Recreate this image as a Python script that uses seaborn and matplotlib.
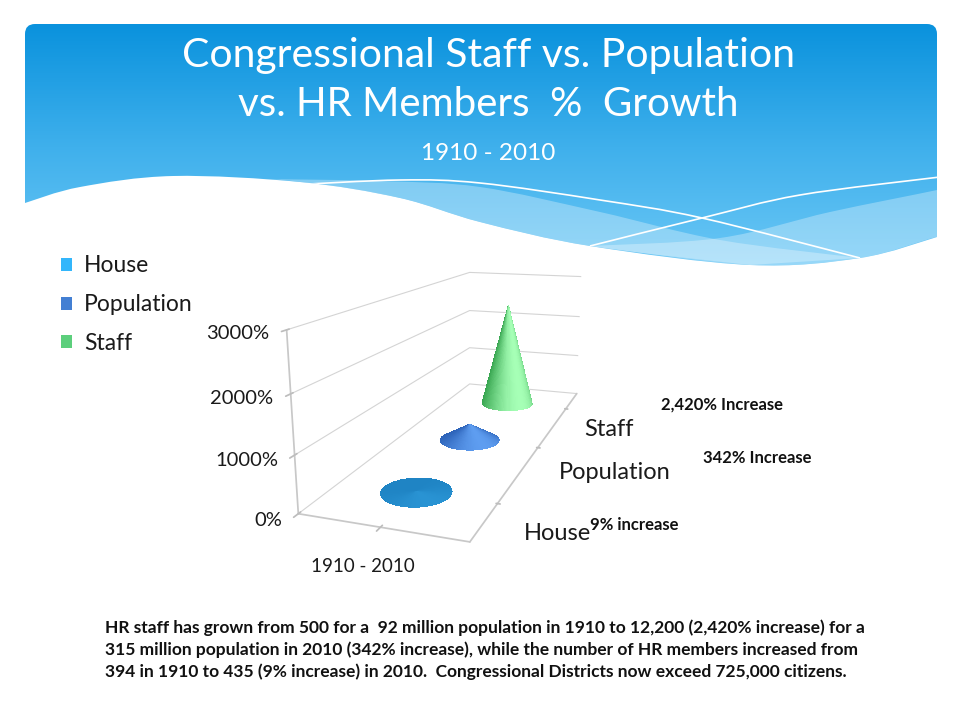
import numpy as np
import matplotlib
matplotlib.use("Agg")
import matplotlib.pyplot as plt
import seaborn as sns
from matplotlib.colors import to_rgb
from matplotlib.patches import PathPatch, Patch
from matplotlib.path import Path

# ---- data ----
series = ["House", "Population", "Staff"]
growth_pct = [9, 342, 2420]
category = ["1910 - 2010"]
z_ticks = [0, 1000, 2000, 3000]
z_tick_labels = ["0%", "1000%", "2000%", "3000%"]
notes = ["9% increase", "342% Increase", "2,420% Increase"]

legend_colors = ["#33b6fb", "#437fd3", "#5ccf7c"]
cone_dark = ["#1f84c4", "#2c62b8", "#2f9e48"]
cone_light = ["#2993d3", "#5e9df0", "#a6ffb6"]

title_lines = ["Congressional Staff vs. Population", "vs. HR Members  %  Growth"]
subtitle = "1910 - 2010"
body_lines = [
    "HR staff has grown from 500 for a  92 million population in 1910 to 12,200 (2,420% increase) for a",
    "315 million population in 2010 (342% increase), while the number of HR members increased from",
    "394 in 1910 to 435 (9% increase) in 2010.  Congressional Districts now exceed 725,000 citizens.",
]

sns.set_theme(style="white")
plt.rcParams['font.family'] = ['Lato', 'DejaVu Sans']


def smooth(pts):
    # catmull-rom through the points, as bezier segments
    pts = np.asarray(pts, float)
    verts = [pts[0]]
    codes = [Path.MOVETO]
    for i in range(len(pts) - 1):
        p0 = pts[max(i - 1, 0)]
        p1 = pts[i]
        p2 = pts[i + 1]
        p3 = pts[min(i + 2, len(pts) - 1)]
        verts += [p1 + (p2 - p0) / 6, p2 - (p3 - p1) / 6, p2]
        codes += [Path.CURVE4] * 3
    return verts, codes


fig = plt.figure(figsize=(9.6, 7.2), dpi=100)
bg = fig.add_axes([0, 0, 1, 1])
bg.set_xlim(0, 960)
bg.set_ylim(720, 0)
bg.axis('off')

# ---- header ----
bottom = [(937, 237), (860, 258), (750, 265), (590, 246), (480, 222),
          (400, 198), (300, 182), (173, 176), (80, 187), (25, 203)]
bv, bc = smooth(bottom)
verts = [(25, 203), (25, 34), (25, 24), (35, 24), (927, 24), (937, 24), (937, 34)] + bv
codes = [Path.MOVETO, Path.LINETO, Path.CURVE3, Path.CURVE3, Path.LINETO,
         Path.CURVE3, Path.CURVE3] + [Path.LINETO] + bc[1:] + [Path.CLOSEPOLY]
verts = verts + [(25, 203)]
header = PathPatch(Path(verts, codes), facecolor='none', edgecolor='none')
bg.add_patch(header)
grad = np.linspace(0, 1, 256)[:, None]
cmap = matplotlib.colors.LinearSegmentedColormap.from_list(
    'hdr', ["#0a92dd", "#3fb0ec", "#6cc8f6"])
im = bg.imshow(grad, cmap=cmap, aspect='auto', extent=[25, 937, 270, 24], zorder=1)
im.set_clip_path(header)

band_a = [(260, 179), (380, 181), (480, 187), (600, 212), (720, 240), (860, 258)]
band_b = [(590, 246), (720, 238), (830, 212), (937, 190), (950, 186)]
for upper, lower in [(band_a, [(750, 265), (590, 246), (480, 222), (400, 198), (300, 182), (260, 179)]),
                     (band_b, [(950, 240), (937, 237), (860, 258), (750, 265), (590, 246)])]:
    uv, uc = smooth(upper)
    lv, lc = smooth(lower)
    p = PathPatch(Path(uv + lv + [upper[0]], uc + [Path.LINETO] + lc[1:] + [Path.CLOSEPOLY]),
                  facecolor='white', edgecolor='none', alpha=0.3, zorder=2)
    bg.add_patch(p)
    p.set_clip_path(header)

for line in [[(290, 185), (400, 180), (480, 183), (600, 200), (702, 218), (860, 258)],
             [(590, 246), (702, 218), (800, 195), (940, 177)]]:
    lv, lc = smooth(line)
    p = PathPatch(Path(lv, lc), facecolor='none', edgecolor='white', lw=1.2, zorder=3)
    bg.add_patch(p)
    p.set_clip_path(header)

bg.text(488, 56, title_lines[0], color='white', fontsize=29.5, ha='center', va='center', zorder=4)
bg.text(488, 104, title_lines[1], color='white', fontsize=29, ha='center', va='center', zorder=4)
bg.text(488, 153, subtitle, color='white', fontsize=17.5, ha='center', va='center', zorder=4)

# ---- legend ----
handles = [Patch(facecolor=c, edgecolor='none', label=s) for s, c in zip(series, legend_colors)]
fig.legend(handles=handles, loc='upper left', bbox_to_anchor=(0.042, 0.674), frameon=False,
           fontsize=16.5, handlelength=0.5, handleheight=0.5, handletextpad=0.5,
           labelspacing=0.78, labelcolor='#1a1a1a')

# ---- 3d cone chart ----
ax = fig.add_axes([0.224, 0.219, 0.52, 0.52], projection='3d')
ax.set_facecolor((1, 1, 1, 0))
ax.patch.set_alpha(0)
elev, azim = 14, -71
ax.view_init(elev=elev, azim=azim)
ax.set_proj_type('persp', focal_length=0.35)
box = (1.0, 2.9, 1.03)
ax.set_box_aspect(box, zoom=1.2)
ax.set_xlim(0, 1)
ax.set_ylim(-0.5, 2.5)
ax.set_zlim(0, 3000)

theta = np.linspace(0, 2 * np.pi, 121)
t = np.array([0.0, 1.0])
T, TH = np.meshgrid(t, theta)
r = 0.21
ry = r * 3 / box[1]
h_angle = np.deg2rad(azim + 28)   # highlight a bit right of the viewer
mid = TH + np.pi / 120
w = ((np.cos(mid - h_angle) + 1) / 2) ** 2.2
for i, (name, val) in enumerate(zip(series, growth_pct)):
    X = 0.5 + r * (1 - T) * np.cos(TH)
    Y = i + ry * (1 - T) * np.sin(TH)
    Z = val * T
    d = np.array(to_rgb(cone_dark[i]))
    l = np.array(to_rgb(cone_light[i]))
    fc = d[None, None, :] * (1 - w[..., None]) + l[None, None, :] * w[..., None]
    fc = np.concatenate([fc, np.ones(fc.shape[:2] + (1,))], axis=2)
    ax.plot_surface(X, Y, Z, facecolors=fc, shade=False,
                    linewidth=0, edgecolor='none', antialiased=False, rstride=1, cstride=1)

ax.set_xticks([0.5])
ax.set_xticklabels(category, fontsize=13.5)
ax.set_yticks(range(len(series)))
ax.set_yticklabels(series, fontsize=17, ha='left', va='center')
ax.set_zticks(z_ticks)
ax.set_zticklabels(z_tick_labels, fontsize=14.5, ha='right', va='center')
ax.zaxis.set_ticks_position('lower')
ax.tick_params(axis='both', color='#bdbdbd', labelcolor='#1a1a1a', width=0.8)
ax.tick_params(axis='z', pad=-3)
ax.tick_params(axis='y', pad=14)
ax.tick_params(axis='x', pad=2)

for a in (ax.xaxis, ax.yaxis, ax.zaxis):
    a.set_pane_color((1, 1, 1, 0))
    a.pane.set_edgecolor((1, 1, 1, 0))
    a.line.set_color('#c8c8c8')
ax.xaxis._axinfo['grid']['color'] = (1, 1, 1, 0)
ax.yaxis._axinfo['grid']['color'] = (1, 1, 1, 0)
ax.zaxis._axinfo['grid']['color'] = '#d4d4d4'
ax.zaxis._axinfo['grid']['linewidth'] = 0.8
ax.grid(True)

# ---- notes ----
bg.text(590, 525, notes[0], fontsize=12, fontweight='bold', color='#111111', va='center')
bg.text(703, 458, notes[1], fontsize=12, fontweight='bold', color='#111111', va='center')
bg.text(661, 405, notes[2], fontsize=12, fontweight='bold', color='#111111', va='center')

for k, line in enumerate(body_lines):
    bg.text(105, 628 + 22 * k, line, fontsize=12.5, fontweight='bold', color='#111111', va='center')

fig.savefig('out.png', dpi=100)
